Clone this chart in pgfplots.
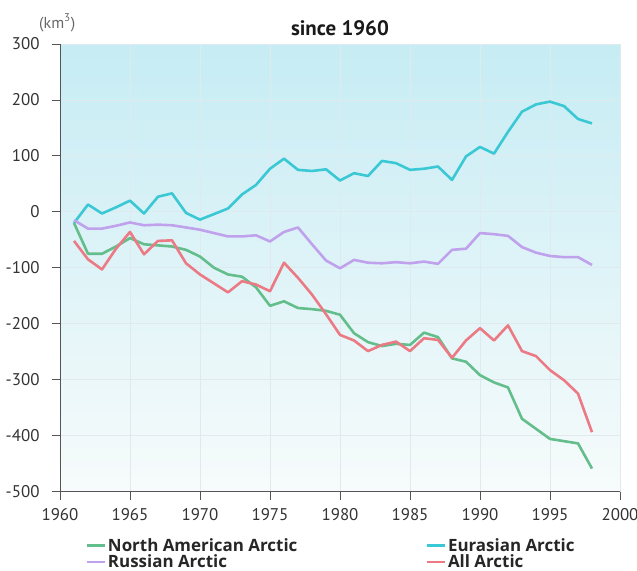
\documentclass[border=0pt]{standalone}
\usepackage{fontspec}
\setmainfont{PT Sans}
\newfontfamily\legfont{Open Sans}
\usepackage{pgfplots}
\pgfplotsset{compat=1.18}

\definecolor{cNA}{RGB}{100,190,140}
\definecolor{cEU}{RGB}{58,200,212}
\definecolor{cRU}{RGB}{192,162,236}
\definecolor{cALL}{RGB}{236,122,132}
\definecolor{bgtop}{RGB}{198,236,244}
\definecolor{bgbot}{RGB}{247,251,251}
\definecolor{gridc}{RGB}{222,234,237}
\definecolor{axc}{RGB}{85,85,85}

\begin{document}
\begin{tikzpicture}
\begin{axis}[
    name=ax,
    scale only axis,
    width=560bp, height=447.5bp,
    xmin=1960, xmax=2000,
    ymin=-500, ymax=300,
    xtick={1960,1965,...,2000},
    ytick={-500,-400,...,300},
    axis x line*=bottom,
    axis y line*=left,
    axis line style={axc, line width=0.8bp},
    tick style={axc, line width=0.8bp},
    tick align=outside,
    major tick length=8bp,
    xmajorgrids, ymajorgrids,
    grid style={gridc, line width=0.8bp},
    axis background/.style={shade, top color=bgtop, bottom color=bgbot},
    ticklabel style={font=\fontsize{17}{17}\selectfont, text=black!80},
    xticklabel style={yshift=-5bp},
    yticklabel style={xshift=-9bp},
    /pgf/number format/assume math mode=true,
    /pgf/number format/1000 sep={},
    legend columns=2,
    legend style={at={(0.045,-0.100)}, anchor=north west, draw=none, fill=none,
        font=\legfont\fontsize{17}{17}\selectfont\bfseries, text=black!85,
        row sep=-2bp, inner sep=0pt},
    legend cell align=left,
    /tikz/every even column/.append style={column sep=126bp},
    legend image code/.code={\draw[#1, line width=2.6bp] (0bp,0bp) -- (18bp,0bp);},
    every axis plot/.append style={line width=2.6bp, line join=round},
]

\addplot[cNA] coordinates {
(1961,-20)(1962,-75)(1963,-75)(1964,-62)(1965,-47)(1966,-58)(1967,-60)(1968,-62)
(1969,-68)(1970,-80)(1971,-100)(1972,-112)(1973,-116)(1974,-135)(1975,-168)(1976,-160)
(1977,-172)(1978,-174)(1979,-177)(1980,-184)(1981,-217)(1982,-233)(1983,-240)(1984,-236)
(1985,-238)(1986,-216)(1987,-224)(1988,-262)(1989,-268)(1990,-292)(1991,-305)(1992,-314)
(1993,-370)(1994,-388)(1995,-406)(1996,-410)(1997,-414)(1998,-459)
};
\addlegendentry{North American Arctic}

\addplot[cEU] coordinates {
(1961,-20)(1962,13)(1963,-3)(1964,8)(1965,20)(1966,-3)(1967,27)(1968,33)
(1969,-2)(1970,-14)(1971,-4)(1972,6)(1973,31)(1974,48)(1975,77)(1976,95)
(1977,75)(1978,73)(1979,76)(1980,56)(1981,69)(1982,64)(1983,91)(1984,87)
(1985,75)(1986,77)(1987,81)(1988,57)(1989,99)(1990,116)(1991,104)(1992,143)
(1993,179)(1994,192)(1995,197)(1996,189)(1997,166)(1998,158)
};
\addlegendentry{Eurasian Arctic}

\addplot[cRU] coordinates {
(1961,-15)(1962,-30)(1963,-30)(1964,-25)(1965,-19)(1966,-24)(1967,-23)(1968,-24)
(1969,-28)(1970,-32)(1971,-38)(1972,-44)(1973,-44)(1974,-42)(1975,-53)(1976,-36)
(1977,-28)(1978,-58)(1979,-87)(1980,-101)(1981,-86)(1982,-91)(1983,-92)(1984,-90)
(1985,-92)(1986,-89)(1987,-93)(1988,-68)(1989,-66)(1990,-38)(1991,-40)(1992,-43)
(1993,-63)(1994,-73)(1995,-79)(1996,-81)(1997,-81)(1998,-95)
};
\addlegendentry{Russian Arctic}

\addplot[cALL] coordinates {
(1961,-52)(1962,-85)(1963,-103)(1964,-66)(1965,-36)(1966,-76)(1967,-52)(1968,-51)
(1969,-92)(1970,-112)(1971,-128)(1972,-144)(1973,-124)(1974,-130)(1975,-142)(1976,-91)
(1977,-118)(1978,-148)(1979,-183)(1980,-220)(1981,-230)(1982,-249)(1983,-238)(1984,-232)
(1985,-249)(1986,-226)(1987,-229)(1988,-261)(1989,-230)(1990,-208)(1991,-230)(1992,-203)
(1993,-249)(1994,-258)(1995,-283)(1996,-301)(1997,-325)(1998,-394)
};
\addlegendentry{All Arctic}

\end{axis}
\node[anchor=base, font=\fontsize{21}{21}\selectfont\bfseries, text=black!90]
    at ([yshift=8.5bp]ax.north) {since 1960};
\node[anchor=base west, font=\fontsize{16}{16}\selectfont, text=black!60, inner sep=0pt]
    at ([xshift=-21bp, yshift=16bp]ax.north west) {(km\textsuperscript{3})};
\pgfresetboundingbox
\path[use as bounding box] ([xshift=-60bp, yshift=-79.5bp]ax.south west)
    rectangle ([xshift=577bp, yshift=491.5bp]ax.south west);
\end{tikzpicture}
\end{document}
